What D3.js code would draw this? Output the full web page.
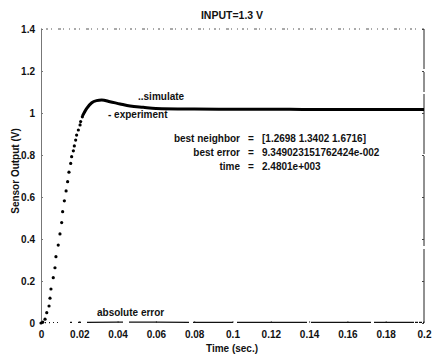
<!DOCTYPE html>
<html>
<head>
<meta charset="utf-8">
<script src="https://cdn.jsdelivr.net/npm/d3@7"></script>
<style>
  body { margin: 0; background: #fff; }
  text { font-family: "Liberation Sans", Arial, sans-serif; font-weight: bold; fill: #111; }
</style>
</head>
<body>
<div id="chart"></div>
<script>
// simulated response, drawn as dots (rising part)
const simT = [0, 0.0009, 0.0021, 0.0030, 0.0042, 0.0047, 0.0052, 0.0064, 0.0073, 0.0078, 0.0090, 0.0099,
  0.0108, 0.0113, 0.0122, 0.0131, 0.0139, 0.0146, 0.0155, 0.0160, 0.0169, 0.0174, 0.0181, 0.0186,
  0.0195, 0.0204, 0.0207, 0.0216]
const simV = [0, 0.004, 0.018, 0.049, 0.081, 0.118, 0.162, 0.216, 0.263, 0.316, 0.371, 0.424,
  0.478, 0.530, 0.582, 0.629, 0.673, 0.718, 0.760, 0.792, 0.820, 0.843, 0.871, 0.895,
  0.919, 0.943, 0.959, 0.982]

// experiment, solid thick line
const expT = [0.0216, 0.0239, 0.0265, 0.029, 0.0317, 0.036, 0.0413, 0.0465, 0.0534, 0.06, 0.08, 0.1, 0.12, 0.14, 0.16, 0.18, 0.2]
const expV = [0.985, 1.022, 1.049, 1.059, 1.062, 1.054, 1.043, 1.033, 1.027, 1.022, 1.019, 1.018, 1.018, 1.017, 1.017, 1.017, 1.017]

// absolute error along the bottom
const errT = [0, 0.02, 0.04, 0.06, 0.08, 0.1, 0.12, 0.14, 0.16, 0.18, 0.2]
const errV = [0.002, 0.003, 0.004, 0.004, 0.003, 0.003, 0.003, 0.003, 0.003, 0.003, 0.003]

const xTicks = [0, 0.02, 0.04, 0.06, 0.08, 0.1, 0.12, 0.14, 0.16, 0.18, 0.2]
const yTicks = [0, 0.2, 0.4, 0.6, 0.8, 1, 1.2, 1.4]

const width = 433,
      height = 362,
      plotLeft = 41, plotRight = 424,
      plotTop = 29, plotBottom = 323

let svg = d3.select('#chart')
  .append('svg')
  .attr('width', width)
  .attr('height', height)

let x = d3.scaleLinear().domain([0, 0.2]).range([plotLeft, plotRight])
let y = d3.scaleLinear().domain([0, 1.4]).range([plotBottom, plotTop])

// frame: top dotted, right dashed, left solid grey
svg.append('line')
  .attr('x1', plotLeft).attr('x2', plotRight).attr('y1', plotTop).attr('y2', plotTop)
  .attr('stroke', '#555').attr('stroke-width', 1)
  .attr('stroke-dasharray', '1,4,2,3,1,6,3,2,1,5')
svg.append('line')
  .attr('x1', plotRight).attr('x2', plotRight).attr('y1', plotTop).attr('y2', plotBottom)
  .attr('stroke', '#222').attr('stroke-width', 1)
  .attr('stroke-dasharray', '40,3,20,2,60,2,90,3,80')

// left axis
svg.append('g')
  .attr('transform', `translate(${plotLeft},0)`)
  .call(d3.axisLeft(y).tickValues(yTicks).tickSize(-2).tickPadding(6)
    .tickFormat(d => d === 0 ? '0' : d3.format('.1f')(d).replace(/\.0$/, '')))
  .call(g => g.select('.domain').attr('stroke', '#777'))
  .call(g => g.selectAll('.tick line').attr('stroke', '#777'))
  .call(g => g.selectAll('text').style('font-size', '10px'))

// right side ticks
svg.append('g')
  .attr('transform', `translate(${plotRight},0)`)
  .call(d3.axisRight(y).tickValues(yTicks).tickSize(-2).tickFormat(''))
  .call(g => g.select('.domain').remove())
  .call(g => g.selectAll('.tick line').attr('stroke', '#444'))

// bottom axis
svg.append('g')
  .attr('transform', `translate(0,${plotBottom})`)
  .call(d3.axisBottom(x).tickValues(xTicks).tickSize(-2).tickPadding(8)
    .tickFormat(d => d === 0 ? '0' : String(+d.toFixed(2))))
  .call(g => g.select('.domain').remove())
  .call(g => g.selectAll('.tick line').attr('stroke', '#777'))
  .call(g => g.selectAll('text').style('font-size', '10px'))

// absolute error
svg.append('path')
  .datum(errT.map((t, i) => [t, errV[i]]))
  .attr('fill', 'none')
  .attr('stroke', '#111')
  .attr('stroke-width', 1.2)
  .attr('stroke-dasharray', '1,3,1,3,1,3,1,3,1,12,2,6,3,6,36,6,60,4,40,4,70,4,60,3,40')
  .attr('d', d3.line().x(d => x(d[0])).y(d => y(d[1])))

// experiment line
svg.append('path')
  .datum(expT.map((t, i) => [t, expV[i]]))
  .attr('fill', 'none')
  .attr('stroke', '#000')
  .attr('stroke-width', 3)
  .attr('stroke-linejoin', 'round')
  .attr('d', d3.line().curve(d3.curveMonotoneX).x(d => x(d[0])).y(d => y(d[1])))

// simulate dots
svg.selectAll('circle.sim')
  .data(simT.map((t, i) => [t, simV[i]]))
  .enter()
  .append('circle')
  .attr('class', 'sim')
  .attr('cx', d => x(d[0]))
  .attr('cy', d => y(d[1]))
  .attr('r', 1.6)
  .attr('fill', '#000')

// titles
svg.append('text')
  .attr('x', 232).attr('y', 19)
  .attr('text-anchor', 'middle')
  .style('font-size', '10.5px')
  .text('INPUT=1.3 V')

svg.append('text')
  .attr('x', 232).attr('y', 352)
  .attr('text-anchor', 'middle')
  .style('font-size', '10px')
  .text('Time (sec.)')

svg.append('text')
  .attr('transform', 'translate(19,171) rotate(-90)')
  .attr('text-anchor', 'middle')
  .style('font-size', '10px')
  .text('Sensor Output (V)')

// annotations
const notes = [
  { t: '..simulate', x: 138, y: 100 },
  { t: '- experiment', x: 108, y: 118 },
  { t: 'absolute error', x: 97, y: 316 }
]
svg.selectAll('text.note')
  .data(notes)
  .enter()
  .append('text')
  .attr('class', 'note')
  .attr('x', d => d.x).attr('y', d => d.y)
  .style('font-size', '10px')
  .text(d => d.t)

const infoLabels = ['best neighbor', 'best error', 'time']
const infoValues = ['[1.2698 1.3402 1.6716]', '9.349023151762424e-002', '2.4801e+003']

infoLabels.forEach((lab, i) => {
  let yy = 142 + i * 14
  svg.append('text').attr('x', 240).attr('y', yy).attr('text-anchor', 'end')
    .style('font-size', '10px').text(lab)
  svg.append('text').attr('x', 251).attr('y', yy).attr('text-anchor', 'middle')
    .style('font-size', '10px').text('=')
  svg.append('text').attr('x', 262).attr('y', yy)
    .style('font-size', '10px').text(infoValues[i])
})
</script>
</body>
</html>
